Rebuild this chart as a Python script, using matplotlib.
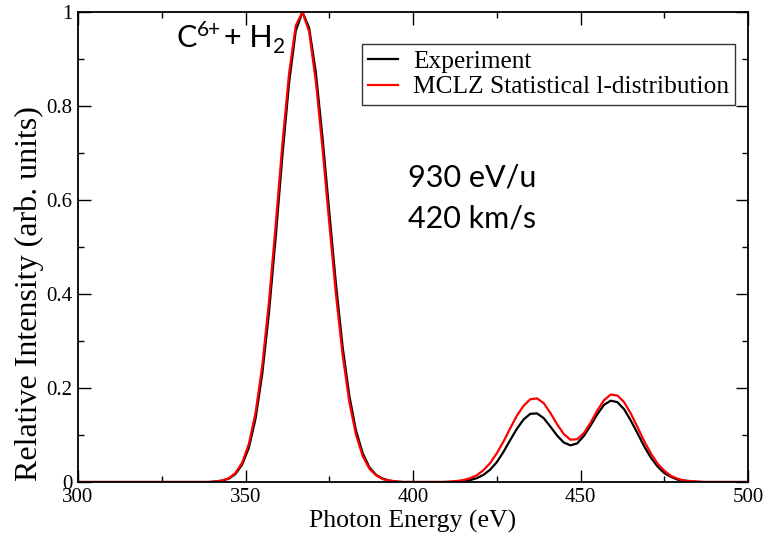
import matplotlib
matplotlib.use("Agg")
import matplotlib.pyplot as plt
from matplotlib.ticker import MultipleLocator, FuncFormatter

# ---------------- data ----------------
energy_ev = [300] + list(range(301, 500, 2)) + [500]

experiment = [
    # 300 .. 317
    0.000, 0.000, 0.000, 0.000, 0.000, 0.000, 0.000, 0.000, 0.000, 0.000,
    # 319 .. 337
    0.000, 0.000, 0.000, 0.000, 0.000, 0.000, 0.000, 0.000, 0.000, 0.000,
    # 339 .. 357
    0.000, 0.001, 0.003, 0.007, 0.017, 0.037, 0.073, 0.135, 0.230, 0.360,
    # 359 .. 377
    0.520, 0.693, 0.849, 0.960, 1.000, 0.966, 0.871, 0.732, 0.575, 0.421,
    # 379 .. 397
    0.287, 0.183, 0.109, 0.061, 0.031, 0.015, 0.007, 0.003, 0.001, 0.000,
    # 399 .. 403
    0.000, 0.000, 0.000,
    # 405 .. 423
    0.000, 0.000, 0.000, 0.000, 0.001, 0.002, 0.004, 0.008, 0.015, 0.026,
    # 425 .. 443
    0.042, 0.064, 0.089, 0.113, 0.133, 0.145, 0.146, 0.136, 0.118, 0.099,
    # 445 .. 463
    0.084, 0.078, 0.082, 0.098, 0.120, 0.144, 0.164, 0.173, 0.170, 0.155,
    # 465 .. 483
    0.131, 0.104, 0.076, 0.052, 0.033, 0.019, 0.011, 0.005, 0.003, 0.001,
    # 485 .. 499, 500
    0.000, 0.000, 0.000, 0.000, 0.000, 0.000, 0.000, 0.000, 0.000,
]

mclz = [
    # 300 .. 317
    0.000, 0.000, 0.000, 0.000, 0.000, 0.000, 0.000, 0.000, 0.000, 0.000,
    # 319 .. 337
    0.000, 0.000, 0.000, 0.000, 0.000, 0.000, 0.000, 0.000, 0.000, 0.000,
    # 339 .. 357
    0.000, 0.001, 0.003, 0.008, 0.019, 0.041, 0.081, 0.147, 0.247, 0.383,
    # 359 .. 377
    0.546, 0.718, 0.869, 0.971, 1.000, 0.958, 0.852, 0.709, 0.551, 0.399,
    # 379 .. 397
    0.270, 0.170, 0.100, 0.055, 0.028, 0.014, 0.006, 0.003, 0.001, 0.000,
    # 399 .. 403
    0.000, 0.000, 0.000,
    # 405 .. 423
    0.000, 0.000, 0.000, 0.001, 0.002, 0.004, 0.008, 0.014, 0.025, 0.040,
    # 425 .. 443
    0.061, 0.086, 0.114, 0.141, 0.162, 0.176, 0.178, 0.168, 0.147, 0.123,
    # 445 .. 463
    0.102, 0.090, 0.091, 0.104, 0.126, 0.152, 0.174, 0.186, 0.184, 0.170,
    # 465 .. 483
    0.146, 0.117, 0.087, 0.061, 0.039, 0.024, 0.013, 0.007, 0.003, 0.002,
    # 485 .. 499, 500
    0.001, 0.000, 0.000, 0.000, 0.000, 0.000, 0.000, 0.000, 0.000,
]

series_labels = ["Experiment", "MCLZ Statistical l-distribution"]
x_label = "Photon Energy (eV)"
y_label = "Relative Intensity (arb. units)"
info_lines = ["930 eV/u", "420 km/s"]

# ---------------- figure ----------------
serif = "Liberation Serif"
sans = "Lato"
W, H = 763, 535

fig = plt.figure(figsize=(W / 100, H / 100), dpi=100)
ax = fig.add_axes([78 / W, 1 - 482 / H, 670 / W, 470 / H])

ax.plot(energy_ev, experiment, color="black", lw=1.6, label=series_labels[0])
ax.plot(energy_ev, mclz, color="#ff0000", lw=1.6, label=series_labels[1])

ax.set_xlim(300, 500)
ax.set_ylim(0, 1)

ax.xaxis.set_major_locator(MultipleLocator(50))
ax.xaxis.set_minor_locator(MultipleLocator(25))
ax.yaxis.set_major_locator(MultipleLocator(0.2))
ax.yaxis.set_minor_locator(MultipleLocator(0.1))
ax.yaxis.set_major_formatter(FuncFormatter(lambda v, p: "%g" % round(v, 2)))

ax.tick_params(which="both", direction="in", top=True, right=True, width=1.0,
               labelsize=15)
ax.tick_params(which="major", length=9)
ax.tick_params(which="minor", length=4.5)
ax.tick_params(axis="x", which="major", pad=4.5)
ax.tick_params(axis="y", which="major", pad=4)
for lab in ax.get_xticklabels() + ax.get_yticklabels():
    lab.set_fontfamily(serif)

for sp in ax.spines.values():
    sp.set_linewidth(1.3)

ax.set_xlabel(x_label, fontfamily=serif, fontsize=18.5, labelpad=2)
ax.set_ylabel(y_label, fontfamily=serif, fontsize=23)
ax.yaxis.set_label_coords((44 - 78) / 670, (482 - 294) / 470)

leg = ax.legend(loc="upper right", bbox_to_anchor=(0.981, 0.932),
                borderaxespad=0, frameon=True, fancybox=False,
                prop={"family": serif, "size": 18.3},
                handlelength=1.15, handletextpad=0.6, labelspacing=0.1,
                borderpad=0.25)
leg.get_frame().set_edgecolor("black")
leg.get_frame().set_linewidth(1.0)

# "C6+ + H2" built from pieces (regular / superscript / subscript)
fig.text(176 / W, 1 - 47 / H, "C", fontfamily=sans, fontsize=22,
         ha="left", va="baseline")
fig.text(197 / W, 1 - 36 / H, "6+", fontfamily=sans, fontsize=15,
         ha="left", va="baseline")
fig.text(224 / W, 1 - 47 / H, "+ H", fontfamily=sans, fontsize=22,
         ha="left", va="baseline")
fig.text(273 / W, 1 - 53 / H, "2", fontfamily=sans, fontsize=15,
         ha="left", va="baseline")

ax.text((408 - 78) / 670, (482 - 187) / 470, info_lines[0], transform=ax.transAxes,
        fontfamily=sans, fontsize=22, ha="left", va="baseline")
ax.text((408 - 78) / 670, (482 - 227) / 470, info_lines[1], transform=ax.transAxes,
        fontfamily=sans, fontsize=22, ha="left", va="baseline")

fig.savefig("out.png", dpi=100, facecolor="white")
